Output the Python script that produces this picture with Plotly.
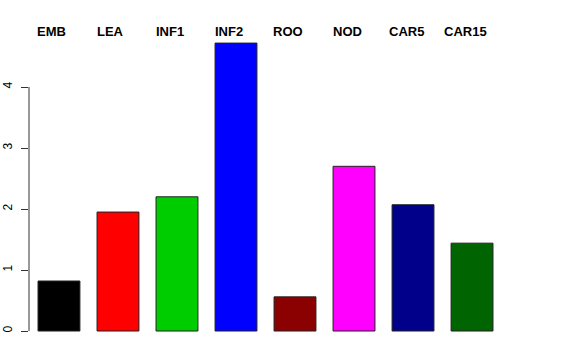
import plotly.graph_objects as go

categories = ["EMB", "LEA", "INF1", "INF2", "ROO", "NOD", "CAR5", "CAR15"]
values = [0.82, 1.95, 2.20, 4.72, 0.56, 2.70, 2.07, 1.44]
colors = ["#000000", "#FF0000", "#00CD00", "#0000FF", "#8B0000", "#FF00FF", "#00008B", "#006400"]
y_ticks = [0, 1, 2, 3, 4]

xpos = list(range(len(categories)))

fig = go.Figure()
fig.add_trace(go.Bar(
    x=xpos, y=values, width=0.71,
    marker=dict(color=colors, line=dict(color="#222222", width=1)),
    hoverinfo="skip", showlegend=False,
))

for xi, name in zip(xpos, categories):
    fig.add_annotation(
        x=xi, y=1.0, xref="x", yref="paper", yanchor="middle", yshift=0,
        xshift=-7, text="<b>%s</b>" % name, showarrow=False,
        font=dict(family="Liberation Sans, Arial, sans-serif", size=13, color="#000000"),
    )

# y axis line spanning the tick range only (R style)
fig.add_shape(type="line", xref="paper", yref="y", x0=0, x1=0,
              y0=y_ticks[0], y1=y_ticks[-1], line=dict(color="#333333", width=1))

fig.update_layout(
    width=576, height=360,
    margin=dict(l=29, r=74, t=31, b=18, autoexpand=False),
    paper_bgcolor="white", plot_bgcolor="white",
    font=dict(family="Liberation Sans, Arial, sans-serif", size=12, color="#000000"),
    xaxis=dict(range=[-0.508, 7.508], showticklabels=False, showgrid=False,
               zeroline=False, showline=False, ticks="", automargin=False),
    yaxis=dict(range=[-0.18, 4.918], tickvals=y_ticks, ticks="outside", ticklen=7,
               tickcolor="#333333", tickangle=-90, showgrid=False, zeroline=False,
               showline=False, ticklabelstandoff=4, automargin=False,
               tickfont=dict(size=12)),
)

fig.write_html("out.html", config={"displayModeBar": False},
               post_script="document.body.style.margin='0';document.body.style.overflow='hidden';")
